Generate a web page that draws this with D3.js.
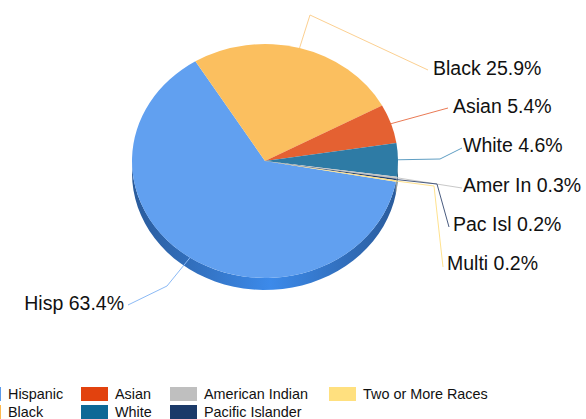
<!doctype html>
<html>
<head>
  <script src="https://cdn.jsdelivr.net/npm/d3@7/dist/d3.min.js"></script>
  <style>
    body { margin: 0; background: #fff; }
    text { font-family: "Liberation Sans", Arial, sans-serif; fill: #111; }
  </style>
</head>
<body>
<div id="viz"></div>
<script>
// chart data, in legend order
var categories = ["Hispanic", "Black", "Asian", "White", "American Indian", "Pacific Islander", "Two or More Races"];
var shortNames = ["Hisp", "Black", "Asian", "White", "Amer In", "Pac Isl", "Multi"];
var percents = [63.4, 25.9, 5.4, 4.6, 0.3, 0.2, 0.2];

// colours: pie face, legend swatch
var sliceColors = ["#61a0f0", "#fbbf5f", "#e46132", "#2e7ba5", "#c4c4c4", "#223f6e", "#ffe082"];
var legendColors = ["#5b9bec", "#fdb94f", "#e2420e", "#0e6896", "#bfbfbf", "#1b3a69", "#ffe07f"];
var lineColors = ["#8cbaf5", "#fcd091", "#ea7a55", "#5f9ec3", "#c8c8c8", "#4a5c80", "#ffe28e"];

var width = 586, height = 419;
var cx = 265, cy = 161, rx = 133, ry = 117, depth = 12;
var rotation = 100.2 * Math.PI / 180;

var svg = d3.select("#viz").append("svg")
    .attr("width", width)
    .attr("height", height);

var pie = d3.pie().sort(null).value(d => d)
    .startAngle(rotation).endAngle(rotation + 2 * Math.PI);
var arcs = pie(percents);

// gradient for the front rim
var defs = svg.append("defs");
var grad = defs.append("linearGradient").attr("id", "rim")
    .attr("gradientUnits", "userSpaceOnUse")
    .attr("x1", cx - rx).attr("x2", cx + rx).attr("y1", 0).attr("y2", 0);
grad.append("stop").attr("offset", "0%").attr("stop-color", "#2a5b9b");
grad.append("stop").attr("offset", "52%").attr("stop-color", "#3c8aea");
grad.append("stop").attr("offset", "100%").attr("stop-color", "#2a5b9b");

function pt(a, dy) {
  return [cx + rx * Math.sin(a), cy - ry * Math.cos(a) + (dy || 0)];
}

// rim (side) for the front half of each slice
function sidePath(a0, a1) {
  var lo = Math.max(a0, Math.PI / 2), hi = Math.min(a1, 3 * Math.PI / 2);
  if (hi <= lo) return null;
  var n = 40, top = [], bot = [];
  for (var i = 0; i <= n; i++) {
    var a = lo + (hi - lo) * i / n;
    top.push(pt(a));
    bot.push(pt(a, depth));
  }
  return d3.line()(top.concat(bot.reverse())) + "Z";
}

var sides = svg.append("g");
arcs.forEach(function(d, i) {
  // unwrap angles into 0..2pi range pieces
  [[d.startAngle, d.endAngle], [d.startAngle - 2 * Math.PI, d.endAngle - 2 * Math.PI]].forEach(function(r) {
    var p = sidePath(r[0], r[1]);
    if (!p) return;
    sides.append("path")
      .attr("d", p)
      .attr("fill", i === 0 ? "url(#rim)" : d3.color(sliceColors[i]).darker(0.8));
  });
});

// top face: circular arcs squashed into an ellipse
var arc = d3.arc().innerRadius(0).outerRadius(rx);
svg.append("g")
    .attr("transform", "translate(" + cx + "," + cy + ") scale(1," + (ry / rx) + ")")
  .selectAll("path")
  .data(arcs)
  .enter().append("path")
    .attr("d", arc)
    .attr("fill", (d, i) => sliceColors[i]);

// leader line elbows and label anchors
var elbows = [[167, 286], [310, 15], null, [440, 159], null, [437, 184], [434, 186]];
var lineEnds = [[128, 305], [428, 70], [448, 108], [462, 148], [462, 188], [449, 227], [443, 267]];
var labelPos = [[124, 310], [433, 75], [453, 113], [463, 152], [463, 192], [453, 231], [447, 270]];

arcs.forEach(function(d, i) {
  var mid = (d.startAngle + d.endAngle) / 2;
  var pts = [pt(mid)];
  if (elbows[i]) pts.push(elbows[i]);
  pts.push(lineEnds[i]);
  svg.append("path")
    .attr("d", d3.line()(pts))
    .attr("fill", "none")
    .attr("stroke", lineColors[i])
    .attr("stroke-width", 1);
  svg.append("text")
    .attr("x", labelPos[i][0])
    .attr("y", labelPos[i][1])
    .attr("text-anchor", i === 0 ? "end" : "start")
    .style("font-size", "19.5px")
    .text(shortNames[i] + " " + percents[i].toFixed(1) + "%");
});

// legend, two rows filled column by column
var legendX = [8, 115, 204, 363];
var legendY = [399, 417];
var legend = svg.append("g");
categories.forEach(function(c, i) {
  var col = Math.floor(i / 2), row = i % 2;
  var tx = legendX[col], ty = legendY[row];
  legend.append("rect")
    .attr("x", tx - 34).attr("y", ty - 12)
    .attr("width", 27).attr("height", 14)
    .attr("fill", legendColors[i]);
  legend.append("text")
    .attr("x", tx).attr("y", ty)
    .style("font-size", "14.4px")
    .text(c);
});
</script>
</body>
</html>
